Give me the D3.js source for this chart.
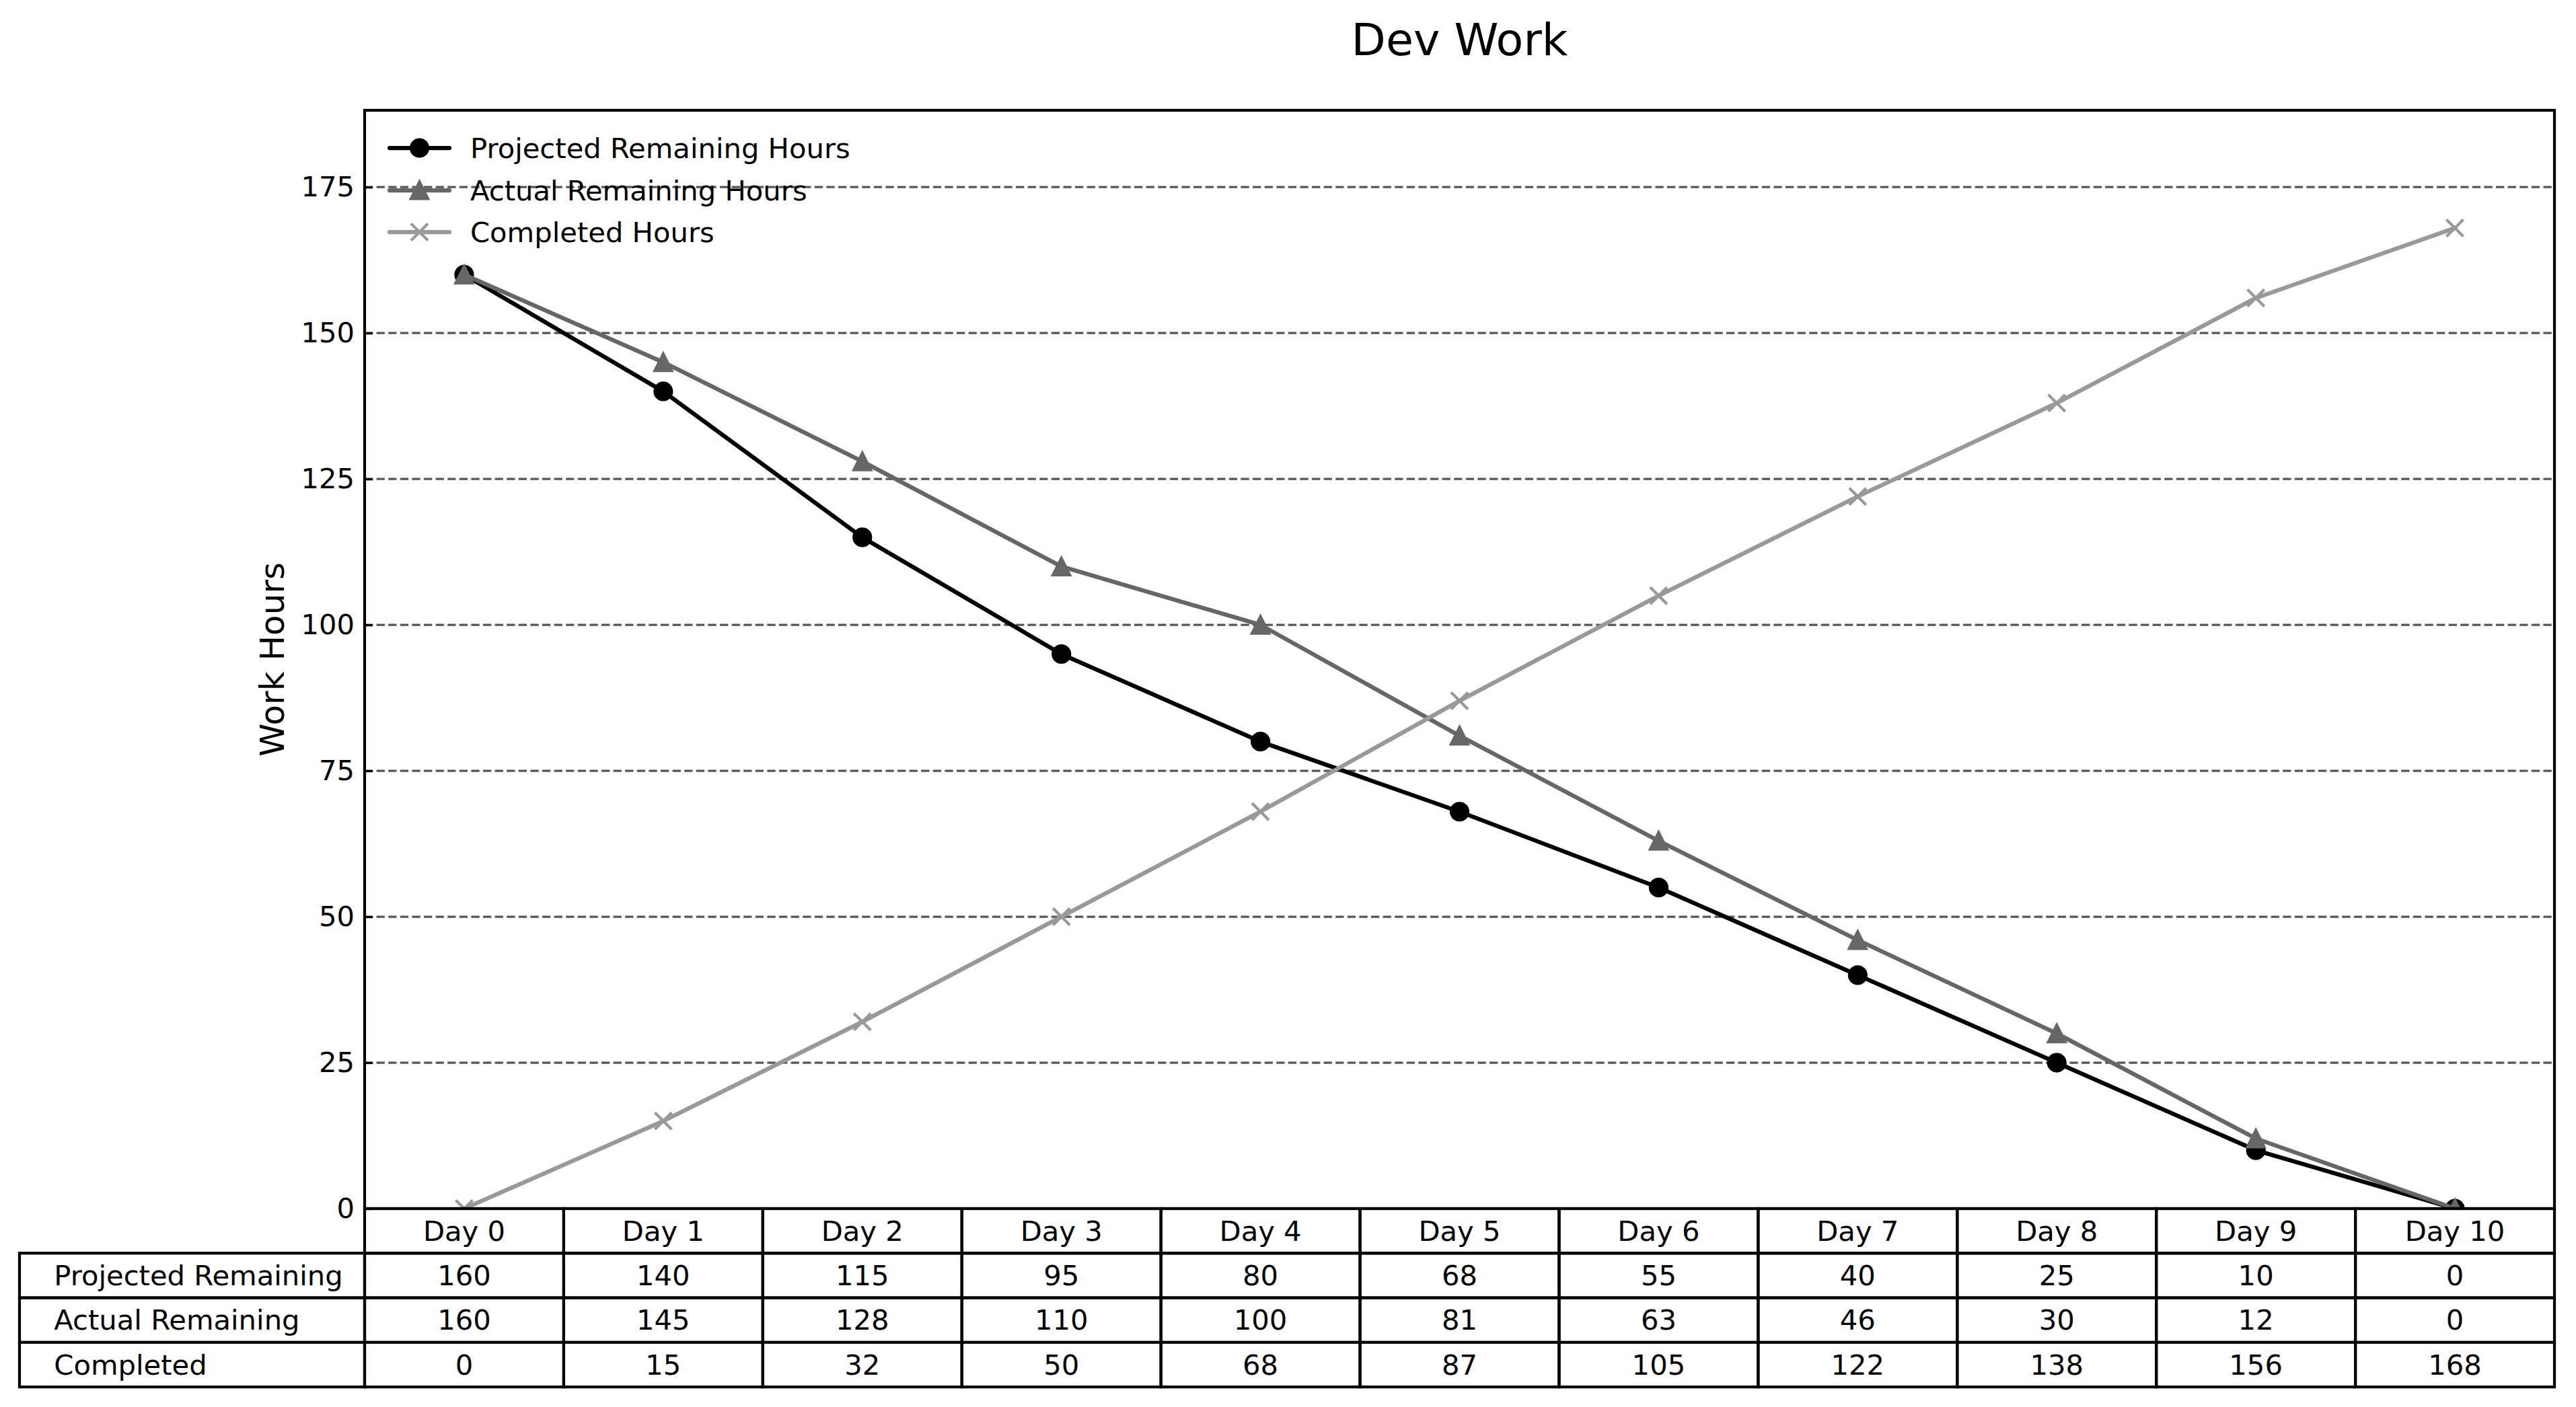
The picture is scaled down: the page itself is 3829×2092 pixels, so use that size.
<!DOCTYPE html>
<html>
<head>
<meta charset="utf-8">
<script src="https://cdn.jsdelivr.net/npm/d3@7"></script>
<style>
  html, body { margin: 0; padding: 0; background: #fff; }
  text { font-family: "DejaVu Sans", sans-serif; fill: #000; }
</style>
</head>
<body>
<svg id="chart" width="3829" height="2092"></svg>
<script>
const days = ["Day 0","Day 1","Day 2","Day 3","Day 4","Day 5","Day 6","Day 7","Day 8","Day 9","Day 10"];
const projected = [160,140,115,95,80,68,55,40,25,10,0];
const actual = [160,145,128,110,100,81,63,46,30,12,0];
const completed = [0,15,32,50,68,87,105,122,138,156,168];
const yTicks = [0,25,50,75,100,125,150,175];
const seriesNames = ["Projected Remaining Hours","Actual Remaining Hours","Completed Hours"];
const rowLabels = ["Projected Remaining","Actual Remaining","Completed"];
const yMax = 168 * 1.12;

const svg = d3.select("#chart");
const W = 3829, H = 2092;
svg.append("rect").attr("width", W).attr("height", H).attr("fill", "#fff");

const L = 542, R = 3797, T = 164, B = 1797;
const rowH = 66.3;
const tableLeft = 29;

const x = d3.scaleBand().domain(days).range([L, R]).padding(0);
const xc = d => x(d) + x.bandwidth() / 2;
const y = d3.scaleLinear().domain([0, yMax]).range([B, T]);

// clip
svg.append("defs").append("clipPath").attr("id", "plotclip")
  .append("rect").attr("x", L).attr("y", T).attr("width", R - L).attr("height", B - T);

// grid
const grid = svg.append("g");
yTicks.filter(t => t > 0).forEach(t => {
  grid.append("line")
    .attr("x1", L).attr("x2", R).attr("y1", y(t)).attr("y2", y(t))
    .attr("stroke", "#555").attr("stroke-width", 3.3)
    .attr("stroke-dasharray", "12.3,5.3");
});

// y axis ticks and labels
const yAxis = d3.axisLeft(y).tickValues(yTicks).tickSize(-12).tickPadding(15).tickFormat(d3.format("d"));
const ga = svg.append("g").attr("transform", `translate(${L},0)`).call(yAxis);
ga.select(".domain").remove();
ga.selectAll(".tick line").attr("stroke", "#000").attr("stroke-width", 3.3);
ga.selectAll(".tick text").attr("font-size", 41.7).attr("font-family", "DejaVu Sans").attr("fill", "#000").attr("x", -15);

// y label
svg.append("text")
  .attr("transform", `translate(405,${(T + B) / 2}) rotate(-90)`)
  .attr("text-anchor", "middle").attr("dominant-baseline", "central")
  .attr("font-size", 50).text("Work Hours");

// title
svg.append("text").attr("x", (L + R) / 2).attr("y", 82)
  .attr("text-anchor", "middle").attr("font-size", 66.7).text("Dev Work");

// series
const series = [
  { name: seriesNames[0], values: projected, color: "#000000", marker: "o" },
  { name: seriesNames[1], values: actual, color: "#666666", marker: "^" },
  { name: seriesNames[2], values: completed, color: "#999999", marker: "x" }
];
const ms = 25;
function drawMarker(g, type, cx, cy, color) {
  if (type === "o") {
    g.append("circle").attr("cx", cx).attr("cy", cy).attr("r", ms / 2)
      .attr("fill", color).attr("stroke", color).attr("stroke-width", 4.2);
  } else if (type === "^") {
    const h = ms / 2;
    g.append("path").attr("d", `M${cx},${cy - h}L${cx - h},${cy + h}L${cx + h},${cy + h}Z`)
      .attr("fill", color).attr("stroke", color).attr("stroke-width", 4.2).attr("stroke-linejoin", "miter");
  } else {
    const h = ms / 2;
    g.append("path").attr("d", `M${cx - h},${cy - h}L${cx + h},${cy + h}M${cx - h},${cy + h}L${cx + h},${cy - h}`)
      .attr("fill", "none").attr("stroke", color).attr("stroke-width", 4.2);
  }
}
const plotG = svg.append("g").attr("clip-path", "url(#plotclip)");
const line = d3.line().x((d, i) => xc(days[i])).y(d => y(d));
series.forEach(s => {
  const g = plotG.append("g");
  g.append("path").datum(s.values).attr("d", line)
    .attr("fill", "none").attr("stroke", s.color).attr("stroke-width", 6.25)
    .attr("stroke-linejoin", "round").attr("stroke-linecap", "round");
  s.values.forEach((v, i) => drawMarker(g, s.marker, xc(days[i]), y(v), s.color));
});

// legend
const legRows = [220, 283, 345];
series.forEach((s, i) => {
  const g = svg.append("g");
  g.append("line").attr("x1", 579).attr("x2", 668).attr("y1", legRows[i]).attr("y2", legRows[i])
    .attr("stroke", s.color).attr("stroke-width", 6.25).attr("stroke-linecap", "round");
  drawMarker(g, s.marker, 623.5, legRows[i], s.color);
  g.append("text").attr("x", 699).attr("y", legRows[i]).attr("dominant-baseline", "central")
    .attr("font-size", 41.7).text(s.name);
});

// axes frame (left, top, right)
const frame = svg.append("g").attr("fill", "none").attr("stroke", "#000").attr("stroke-width", 4.2);
frame.append("rect").attr("x", L).attr("y", T).attr("width", R - L).attr("height", B - T);

// table
const tg = svg.append("g");
const lw = 4.2;
// header row: day cells
days.forEach(d => {
  tg.append("rect").attr("x", x(d)).attr("y", B).attr("width", x.bandwidth()).attr("height", rowH)
    .attr("fill", "none").attr("stroke", "#000").attr("stroke-width", lw);
  tg.append("text").attr("x", xc(d)).attr("y", B + rowH / 2).attr("text-anchor", "middle")
    .attr("dominant-baseline", "central").attr("font-size", 41.7).text(d);
});
const tableData = [projected, actual, completed];
tableData.forEach((vals, r) => {
  const ry = B + rowH * (r + 1);
  tg.append("rect").attr("x", tableLeft).attr("y", ry).attr("width", L - tableLeft).attr("height", rowH)
    .attr("fill", "none").attr("stroke", "#000").attr("stroke-width", lw);
  tg.append("text").attr("x", tableLeft + (L - tableLeft) * 0.1).attr("y", ry + rowH / 2)
    .attr("dominant-baseline", "central").attr("font-size", 41.7).text(rowLabels[r]);
  vals.forEach((v, i) => {
    tg.append("rect").attr("x", x(days[i])).attr("y", ry).attr("width", x.bandwidth()).attr("height", rowH)
      .attr("fill", "none").attr("stroke", "#000").attr("stroke-width", lw);
    tg.append("text").attr("x", xc(days[i])).attr("y", ry + rowH / 2).attr("text-anchor", "middle")
      .attr("dominant-baseline", "central").attr("font-size", 41.7).text(v);
  });
});
</script>
</body>
</html>
